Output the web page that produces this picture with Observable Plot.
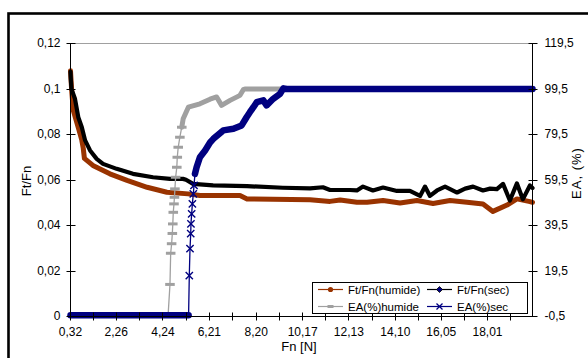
<!DOCTYPE html>
<html><head><meta charset="utf-8">
<script src="https://cdn.jsdelivr.net/npm/d3@7"></script>
<script src="https://cdn.jsdelivr.net/npm/@observablehq/plot@0.6"></script>
<style>
body{margin:0;background:#fff;}
#chart{position:relative;width:588px;height:358px;overflow:hidden;background:#fff;}
</style></head><body><div id="chart"></div>
<script>
// ---- data ----
const xTicks = [0.32, 2.26, 4.24, 6.21, 8.20, 10.17, 12.13, 14.10, 16.05, 18.01];
const xTickLabels = ["0,32","2,26","4,24","6,21","8,20","10,17","12,13","14,10","16,05","18,01"];
const leftTicks = [0, 0.02, 0.04, 0.06, 0.08, 0.1, 0.12];
const leftTickLabels = ["0","0,02","0,04","0,06","0,08","0,1","0,12"];
const rightTicks = [-0.5, 19.5, 39.5, 59.5, 79.5, 99.5, 119.5];
const rightTickLabels = ["-0,5","19,5","39,5","59,5","79,5","99,5","119,5"];

// Ft/Fn (humide)
const fnHum = [0.32,0.37,0.44,0.65,0.80,0.86,0.91,1.27,1.99,2.72,3.57,4.41,5.31,5.81,7.51,7.81,10.48,11.33,11.76,12.47,12.90,13.58,14.30,15.02,15.70,16.42,17.14,17.82,18.24,18.84,19.26,19.81,19.92];
const ftfnHum = [0.108,0.0993,0.0905,0.0830,0.0775,0.0740,0.0695,0.0664,0.0627,0.0598,0.0568,0.0546,0.0539,0.0532,0.0532,0.0517,0.0513,0.0506,0.0512,0.0502,0.0502,0.0510,0.0499,0.0510,0.0497,0.0510,0.0502,0.0495,0.0462,0.0490,0.0517,0.0505,0.0502];

// Ft/Fn (sec)
const fnSec = [0.32,0.33,0.36,0.51,0.65,0.80,0.94,1.15,1.43,1.70,2.28,2.97,3.82,4.54,5.09,5.22,5.52,6.37,7.81,9.33,10.48,11.03,11.33,12.17,12.47,12.73,13.15,13.58,14.17,14.72,15.15,15.36,15.57,15.87,16.21,16.72,17.06,17.40,17.82,18.12,18.41,18.67,18.96,19.26,19.51,19.81,19.92];
const ftfnSec = [0.1075,0.105,0.100,0.0957,0.0876,0.0832,0.0774,0.0730,0.0693,0.0671,0.0649,0.0627,0.0612,0.0605,0.0605,0.0601,0.0583,0.0576,0.0573,0.0566,0.0563,0.0568,0.0556,0.0556,0.0554,0.0571,0.0554,0.0567,0.0552,0.0552,0.0530,0.0571,0.0530,0.0554,0.0571,0.0545,0.0562,0.0571,0.0554,0.0562,0.0560,0.0583,0.0510,0.0585,0.0515,0.0576,0.0565];

// EA(%) humide
const fnEaHum = [0.32,4.46,4.54,4.57,4.61,4.64,4.66,4.68,4.71,4.73,4.75,4.78,4.83,4.85,4.89,4.96,5.04,5.10,5.32,5.81,6.24,6.52,6.73,7.09,7.51,7.65,7.72,19.92];
const eaHum = [0,0,13.6,27.3,31.5,36.0,40.2,45.3,49.0,51.9,55.6,60.7,65.1,69.5,73.9,78.3,82.7,86.4,91.5,93.0,95.0,96.0,92.3,94.5,96.7,99.2,99.5,99.5];

// EA(%) sec
const fnEaSec = [0.32,5.33,5.36,5.39,5.42,5.43,5.46,5.49,5.53,5.56,5.60,5.67,5.81,6.03,6.24,6.38,6.80,7.23,7.58,7.79,7.93,8.08,8.22,8.50,8.64,8.92,9.21,9.35,9.49,19.92];
const eaSec = [0,0,17.5,29.3,35.9,40.2,44.6,49.0,53.4,57.1,62.2,65.1,69.5,72.5,76.0,77.6,81.3,82.0,83.5,87.1,89.3,91.5,93.7,94.5,92.3,95.2,97.4,99.8,99.5,99.5];

// ---- build ----
const C_HUM = "#993300", C_SEC = "#000000", C_EAH = "#a0a0a0", C_EAS = "#000080";
const FONT = "'Liberation Sans', Arial, sans-serif";
const eaToV = ea => (ea - rightTicks[0]) * (leftTicks[leftTicks.length-1] / (rightTicks[rightTicks.length-1] - rightTicks[0]));

const humRows = fnHum.map((fn,i)=>({fn, v: ftfnHum[i]}));
const secRows = fnSec.map((fn,i)=>({fn, v: ftfnSec[i]}));
const eaHumRows = fnEaHum.map((fn,i)=>({fn, ea: eaHum[i], v: eaToV(eaHum[i])}));
const eaSecRows = fnEaSec.map((fn,i)=>({fn, ea: eaSec[i], v: eaToV(eaSec[i])}));

const dash = {draw(ctx, size){ const w = Math.sqrt(size) * 0.9; ctx.moveTo(-w, 0); ctx.lineTo(w, 0); }};

const W = 588, H = 358;
const plot = Plot.plot({
  width: W, height: H,
  marginLeft: 70, marginRight: 56, marginTop: 43, marginBottom: 42,
  style: {fontFamily: FONT, fontSize: "12px", color: "#000", background: "transparent"},
  x: {domain: [0.32, 19.92], label: null},
  y: {domain: [0, 0.12], label: null},
  marks: [
    Plot.ruleY([0.12], {stroke: "#a0a0a0", strokeWidth: 1.2}),
    // Ft/Fn humide
    Plot.line(humRows, {x: "fn", y: "v", stroke: C_HUM, strokeWidth: 5, strokeLinejoin: "round", strokeLinecap: "round"}),
    // Ft/Fn sec
    Plot.line(secRows, {x: "fn", y: "v", stroke: C_SEC, strokeWidth: 4.2, strokeLinejoin: "round", strokeLinecap: "round"}),
    // EA humide
    Plot.line(eaHumRows, {x: "fn", y: "v", stroke: C_EAH, strokeWidth: 1.3}),
    Plot.line(eaHumRows.filter(d => d.ea >= 82), {x: "fn", y: "v", stroke: C_EAH, strokeWidth: 5, strokeLinejoin: "round"}),
    Plot.dot(eaHumRows.filter(d => d.ea > 0 && d.ea < 84), {x: "fn", y: "v", symbol: dash, r: 3, stroke: C_EAH, strokeWidth: 3, fill: "none"}),
    // EA sec
    Plot.line(eaSecRows, {x: "fn", y: "v", stroke: C_EAS, strokeWidth: 1.3}),
    Plot.line(eaSecRows.filter(d => d.ea === 0 || d.ea >= 60), {x: "fn", y: "v", z: d => d.ea === 0 ? "z" : "top", stroke: C_EAS, strokeWidth: 6.5, strokeLinejoin: "round"}),
    Plot.dot(eaSecRows.filter(d => d.ea > 0 && d.ea < 62), {x: "fn", y: "v", symbol: "times", r: 3.4, stroke: C_EAS, strokeWidth: 1.4}),
    // axes (labels)
    Plot.axisY(leftTicks, {anchor: "left", tickSize: 0, tickPadding: 10, label: null, fontSize: 12,
      tickFormat: d => leftTickLabels[leftTicks.indexOf(d)]}),
    Plot.axisY(rightTicks.map(eaToV), {anchor: "right", tickSize: 0, tickPadding: 12, label: null, fontSize: 12,
      tickFormat: d => rightTickLabels[rightTicks.map(eaToV).indexOf(d)]}),
    Plot.axisX(xTicks, {anchor: "bottom", tickSize: 0, tickPadding: 11, label: null, fontSize: 12,
      tickFormat: d => xTickLabels[xTicks.indexOf(d)]})
  ]
});
document.getElementById("chart").appendChild(plot);

// ---- decorations drawn with the plot's own scales ----
const sx = plot.scale("x"), sy = plot.scale("y");
const svg = d3.select(plot);
const X = v => Math.round(sx.apply(v)) + 0.5;
const Y = v => Math.round(sy.apply(v)) + 0.5;
const x0 = X(0.32), x1 = X(19.92), y0 = Y(0), y1 = Y(0.12);
const g = svg.append("g").attr("stroke", "#000").attr("stroke-width", 1).attr("fill", "none");
g.append("line").attr("x1", x0).attr("x2", x0).attr("y1", y1).attr("y2", y0);
g.append("line").attr("x1", x1).attr("x2", x1).attr("y1", y1).attr("y2", y0);
g.append("line").attr("x1", x0).attr("x2", x1).attr("y1", y0).attr("y2", y0);
leftTicks.forEach(t => g.append("line").attr("x1", x0 - 4).attr("x2", x0 + 5).attr("y1", Y(t)).attr("y2", Y(t)));
rightTicks.forEach(t => g.append("line").attr("x1", x1 - 4).attr("x2", x1 + 5).attr("y1", Y(eaToV(t))).attr("y2", Y(eaToV(t))));
const minor = [];
xTicks.forEach((t, i) => { minor.push(t); const n = xTicks[i+1] ?? (t + (t - xTicks[i-1])); minor.push((t + n) / 2); });
minor.forEach(t => g.append("line").attr("x1", X(t)).attr("x2", X(t)).attr("y1", y0 - 4).attr("y2", y0 + 4));

// chart-area border
svg.append("rect").attr("x", 8.5).attr("y", 13.5).attr("width", 620).attr("height", 400)
  .attr("fill", "none").attr("stroke", "#000").attr("stroke-width", 2.6);

// axis titles
const t = svg.append("g").attr("font-family", FONT).attr("fill", "#000").attr("font-size", 13);
t.append("text").attr("x", 299).attr("y", 351).attr("text-anchor", "middle").text("Fn [N]");
t.append("text").attr("transform", "translate(31,181) rotate(-90)").attr("text-anchor", "middle").text("Ft/Fn");
t.append("text").attr("transform", "translate(581,173) rotate(-90)").attr("text-anchor", "middle").attr("letter-spacing", 1).text("EA, (%)");

// legend
const lg = svg.append("g").attr("font-family", FONT).attr("font-size", 11.5).attr("text-anchor", "start");
lg.append("rect").attr("x", 312.5).attr("y", 282.5).attr("width", 215).attr("height", 31).attr("fill", "#fff").attr("stroke", "#000");
const items = [
  {label: "Ft/Fn(humide)", color: C_HUM, mk: "circle", col: 0, row: 0},
  {label: "Ft/Fn(sec)", color: C_SEC, mk: "diamond", col: 1, row: 0},
  {label: "EA(%)humide", color: C_EAH, mk: "dash", col: 0, row: 1},
  {label: "EA(%)sec", color: C_EAS, mk: "times", col: 1, row: 1}
];
items.forEach(it => {
  const lx = it.col ? 427 : 318, ly = it.row ? 306.5 : 289.5;
  lg.append("line").attr("x1", lx).attr("x2", lx + 25).attr("y1", ly).attr("y2", ly).attr("stroke", it.color).attr("stroke-width", 1.2);
  const cx = lx + 12.5;
  if (it.mk === "circle") lg.append("circle").attr("cx", cx).attr("cy", ly).attr("r", 2.6).attr("fill", it.color);
  if (it.mk === "diamond") lg.append("path").attr("d", `M${cx},${ly-3}L${cx+3},${ly}L${cx},${ly+3}L${cx-3},${ly}Z`).attr("fill", "#000080").attr("stroke", "#000").attr("stroke-width", 0.8);
  if (it.mk === "dash") lg.append("line").attr("x1", cx - 3).attr("x2", cx + 3).attr("y1", ly).attr("y2", ly).attr("stroke", it.color).attr("stroke-width", 3);
  if (it.mk === "times") lg.append("path").attr("d", `M${cx-3},${ly-3}L${cx+3},${ly+3}M${cx-3},${ly+3}L${cx+3},${ly-3}`).attr("stroke", it.color).attr("stroke-width", 1.3);
  lg.append("text").attr("x", lx + 30).attr("y", ly + 4).attr("fill", "#000").attr("text-anchor", "start").text(it.label);
});
</script></body></html>
